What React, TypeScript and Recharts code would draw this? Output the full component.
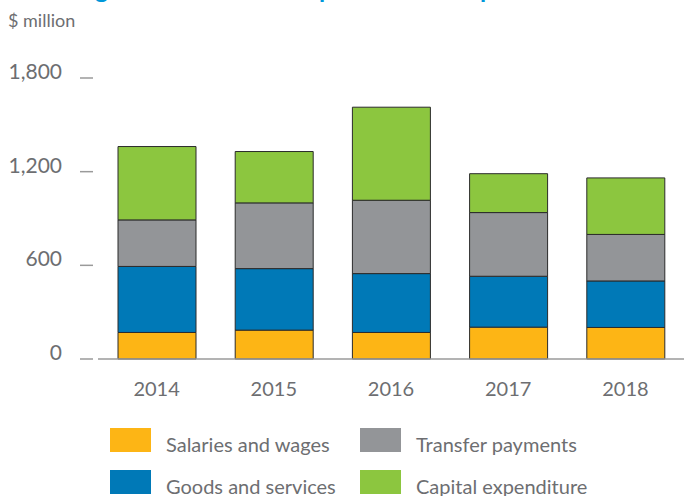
import React from 'react';
import { BarChart, Bar, XAxis, YAxis } from 'recharts';

const years = ['2014', '2015', '2016', '2017', '2018'];
const salaries = [170, 185, 170, 204, 202];
const goods = [423, 394, 377, 326, 298];
const transfers = [298, 421, 470, 408, 298];
const capital = [470, 329, 596, 249, 362];
const yTicks = [0, 600, 1200, 1800];

const SERIES = [
  { key: 'salaries', name: 'Salaries and wages', color: '#FDB515' },
  { key: 'goods', name: 'Goods and services', color: '#0079B7' },
  { key: 'transfers', name: 'Transfer payments', color: '#939598' },
  { key: 'capital', name: 'Capital expenditure', color: '#8CC63F' },
];

const data = years.map((year, i) => ({
  year,
  salaries: salaries[i],
  goods: goods[i],
  transfers: transfers[i],
  capital: capital[i],
}));

const FONT = 'Lato, "Open Sans", sans-serif';
const TEXT = '#6d6e71';
const AXIS = '#9a9a9a';

const LeftTick = ({ x, y, payload }: any) => (
  <g>
    <text x={x - 36} y={y + 1} textAnchor="end" fill={TEXT} fontSize={21} fontFamily={FONT}>
      {Number(payload.value).toLocaleString('en-US')}
    </text>
    <line x1={x - 18} x2={x - 5} y1={y} y2={y} stroke={AXIS} strokeWidth={1.5} />
  </g>
);

const RightTick = ({ x, y }: any) => (
  <line x1={x + 4} x2={x + 12} y1={y} y2={y} stroke={AXIS} strokeWidth={1.5} />
);

const YearTick = ({ x, y, payload }: any) => (
  <text x={x} y={y + 37} textAnchor="middle" fill={TEXT} fontSize={20} fontFamily={FONT}>
    {payload.value}
  </text>
);

export default function App() {
  return (
    <div style={{ position: 'absolute', left: 0, top: 0, width: 696, height: 496, background: '#fff' }}>
      <svg width={696} height={60} style={{ position: 'absolute', left: 0, top: 0 }}>
        {/* title sits above the frame, only its descenders peek in */}
        <text x={8} y={-2.5} fill="#0098DA" fontSize={25} fontWeight="bold" fontFamily={FONT}>
          Central government total expenditure composition
        </text>
        <text x={8} y={27} fill={TEXT} fontSize={18} fontFamily={FONT}>
          $ million
        </text>
      </svg>
      <BarChart
        width={696}
        height={496}
        data={data}
        margin={{ top: 78, right: 0, bottom: 136, left: 0 }}
        barSize={78}
      >
        <XAxis
          dataKey="year"
          tick={<YearTick />}
          tickLine={false}
          tickSize={0}
          tickMargin={0}
          axisLine={{ stroke: AXIS, strokeWidth: 1.5 }}
          height={1}
        />
        <YAxis
          width={98}
          domain={[0, 1800]}
          ticks={yTicks}
          tick={<LeftTick />}
          tickLine={false}
          tickSize={0}
          tickMargin={0}
          axisLine={false}
        />
        <YAxis
          yAxisId="r"
          orientation="right"
          width={12}
          domain={[0, 1800]}
          ticks={yTicks}
          tick={<RightTick />}
          tickLine={false}
          tickSize={0}
          tickMargin={0}
          axisLine={false}
        />
        {SERIES.map((s) => (
          <Bar
            key={s.key}
            dataKey={s.key}
            name={s.name}
            stackId="a"
            fill={s.color}
            stroke="#2b2b2b"
            strokeWidth={1}
            isAnimationActive={false}
          />
        ))}
      </BarChart>
      <svg width={696} height={90} style={{ position: 'absolute', left: 0, top: 410 }}>
        {SERIES.map((s, i) => {
          const col = Math.floor(i / 2);
          const row = i % 2;
          const x = 110 + col * 250;
          const y = 18 + row * 42;
          return (
            <g key={s.key}>
              <rect x={x} y={y} width={41} height={24} fill={s.color} />
              <text x={x + 56} y={y + 23.5} fill={TEXT} fontSize={20} fontFamily={FONT}>
                {s.name}
              </text>
            </g>
          );
        })}
      </svg>
    </div>
  );
}
